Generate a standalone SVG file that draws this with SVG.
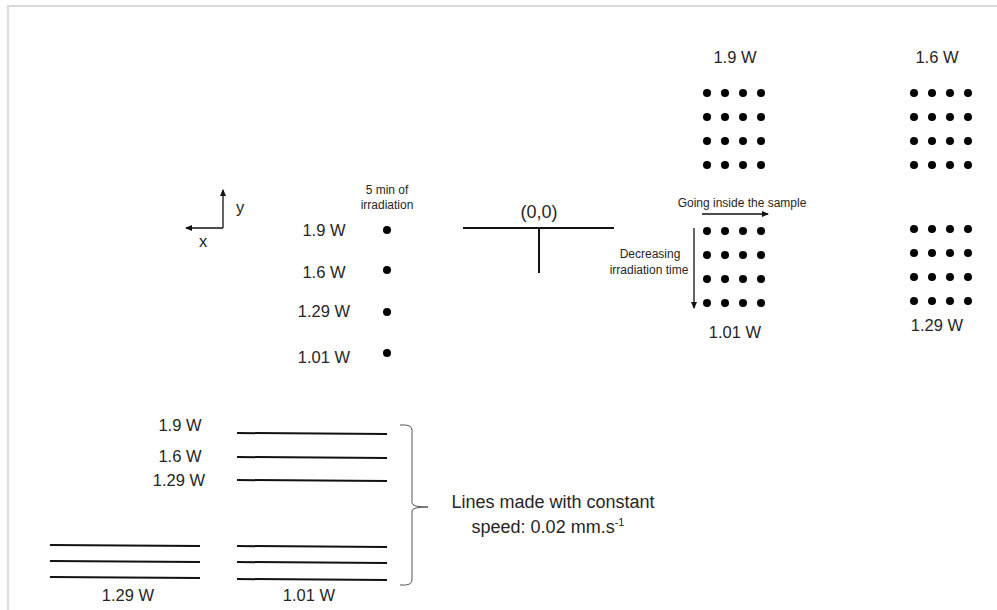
<svg xmlns="http://www.w3.org/2000/svg" width="997" height="610" viewBox="0 0 997 610">
<style>
text{font-family:"Liberation Sans",Arial,sans-serif;fill:#262626;text-anchor:middle}
.l{font-size:16.5px}
.s{font-size:12px}
.b{font-size:18px}
.ln{stroke:#111;stroke-width:2;fill:none}
.d{fill:#000}
</style>
<defs>
<marker id="ah" markerWidth="8" markerHeight="8" refX="6" refY="3" orient="auto" markerUnits="userSpaceOnUse"><path d="M0,0 L7,3 L0,6 z" fill="#111"/></marker>
<g id="row"><circle cx="0" cy="0" r="4"/><circle cx="18" cy="0" r="4"/><circle cx="36" cy="0" r="4"/><circle cx="54" cy="0" r="4"/></g>
<g id="grid"><use href="#row" y="0"/><use href="#row" y="24"/><use href="#row" y="48"/><use href="#row" y="72"/></g>
</defs>
<rect width="997" height="610" fill="#fff"/>
<path d="M8,610 V6 H997" stroke="#d9d9d9" stroke-width="2" fill="none"/>

<g id="axes">
<line x1="223" y1="228" x2="223" y2="190" stroke="#111" stroke-width="1.3" marker-end="url(#ah)"/>
<line x1="223" y1="228" x2="186" y2="228" stroke="#111" stroke-width="1.3" marker-end="url(#ah)"/>
<text x="240" y="213" class="l">y</text>
<text x="203" y="247" class="l">x</text>
</g>

<g id="single-points">
<text x="387" y="194" class="s">5 min of</text>
<text x="387" y="209" class="s">irradiation</text>
<text x="324" y="236" class="l">1.9 W</text>
<text x="324" y="278" class="l">1.6 W</text>
<text x="324" y="317" class="l">1.29 W</text>
<text x="324" y="363" class="l">1.01 W</text>
<g class="d"><circle cx="387" cy="230" r="4"/><circle cx="387" cy="270" r="4"/><circle cx="387" cy="312" r="4"/><circle cx="387" cy="353" r="4"/></g>
</g>

<g id="origin">
<text x="539" y="218" class="b">(0,0)</text>
<line x1="463" y1="228" x2="614" y2="228" class="ln"/>
<line x1="539" y1="228" x2="539" y2="273" class="ln"/>
</g>

<g id="grid-1-9W">
<text x="735" y="63" class="l">1.9 W</text>
<use href="#grid" x="707" y="93"/>
</g>
<g id="grid-1-6W">
<text x="937" y="63" class="l">1.6 W</text>
<use href="#grid" x="914" y="93"/>
</g>
<g id="grid-1-01W">
<text x="742" y="207" class="s">Going inside the sample</text>
<line x1="702" y1="214" x2="768" y2="214" stroke="#111" stroke-width="1.3" marker-end="url(#ah)"/>
<line x1="694" y1="228" x2="694" y2="308" stroke="#111" stroke-width="1.3" marker-end="url(#ah)"/>
<text x="650" y="258" class="s">Decreasing</text>
<text x="649" y="274" class="s">irradiation time</text>
<use href="#grid" x="707" y="231"/>
<text x="735" y="338" class="l">1.01 W</text>
</g>
<g id="grid-1-29W">
<use href="#grid" x="914" y="229"/>
<text x="937" y="331" class="l">1.29 W</text>
</g>

<g id="lines">
<text x="180" y="431" class="l">1.9 W</text>
<text x="180" y="462" class="l">1.6 W</text>
<text x="179" y="486" class="l">1.29 W</text>
<line x1="237" y1="433" x2="387" y2="434" class="ln"/>
<line x1="237" y1="457" x2="387" y2="458" class="ln"/>
<line x1="237" y1="480" x2="387" y2="481" class="ln"/>
<line x1="237" y1="546" x2="387" y2="547" class="ln"/>
<line x1="237" y1="562" x2="387" y2="563" class="ln"/>
<line x1="237" y1="579" x2="387" y2="580" class="ln"/>
<line x1="50" y1="545" x2="200" y2="546" class="ln"/>
<line x1="50" y1="561" x2="200" y2="562" class="ln"/>
<line x1="50" y1="577" x2="200" y2="578" class="ln"/>
<text x="128" y="601" class="l">1.29 W</text>
<text x="309" y="601" class="l">1.01 W</text>
</g>

<g id="brace">
<path d="M400,425 Q412,424 412,430 V503 Q412,507 428,507 Q412,507 412,511 V580 Q412,586 400,585" fill="none" stroke="#555" stroke-width="1"/>
<text x="553" y="508" class="b">Lines made with constant</text>
<text x="548" y="533" class="b">speed: 0.02 mm.s<tspan dy="-7" font-size="11">-1</tspan></text>
</g>
</svg>
